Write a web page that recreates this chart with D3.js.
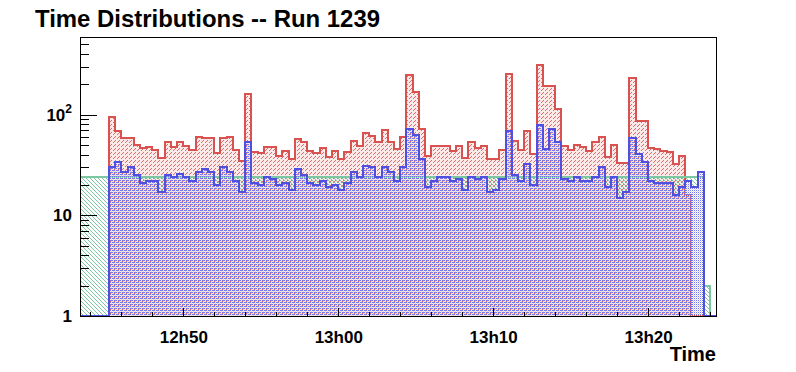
<!DOCTYPE html>
<html>
<head>
<meta charset="utf-8">
<script src="https://cdn.jsdelivr.net/npm/d3@7"></script>
<style>
  body { margin: 0; background: #fff; }
  text { font-family: "Liberation Sans", Arial, Helvetica, sans-serif; font-weight: bold; fill: #000; }
</style>
</head>
<body>
<script>
// Histogram data, 24 s bins starting at 12:45:12
const binSeconds = 24;
const firstBin = new Date(2000, 0, 1, 12, 45, 12);

const redCounts = [
  95, 69, 58, 59, 50, 47, 48, 45, 37, 54,
  48, 53, 49, 45, 60, 58, 58, 42, 58, 60,
  45, 35, 161, 43, 42, 48, 48, 39, 44, 36,
  57, 54, 44, 42, 47, 38, 44, 36, 43, 55,
  49, 66, 61, 53, 70, 53, 46, 60, 247, 166,
  72, 39, 49, 49, 49, 44, 49, 37, 53, 47,
  49, 36, 36, 45, 251, 55, 45, 68, 41, 311,
  194, 194, 114, 49, 45, 50, 48, 44, 53, 60,
  38, 50, 33, 33, 231, 87, 87, 47, 46, 44,
  43, 32, 39, 16
];

const blueCounts = [
  30, 34, 27, 30, 25, 21, 22, 22, 17, 25,
  24, 26, 24, 22, 27, 29, 27, 20, 30, 27,
  22, 17, 53, 21, 20, 24, 23, 20, 21, 18,
  29, 25, 21, 20, 22, 19, 20, 18, 21, 27,
  24, 31, 30, 24, 30, 27, 22, 30, 72, 63,
  36, 19, 22, 24, 24, 22, 23, 18, 24, 23,
  24, 17, 18, 23, 68, 25, 22, 32, 20, 79,
  46, 72, 53, 23, 22, 24, 22, 22, 24, 30,
  19, 24, 15, 17, 59, 41, 34, 22, 21, 21,
  21, 16, 19, 22, 19, 27
];

// green has a flat level over the whole run, then one low bin
const greenEdges = [
  new Date(2000, 0, 1, 12, 43, 12),
  new Date(2000, 0, 1, 13, 23, 36),
  new Date(2000, 0, 1, 13, 24, 0)
];
const greenCounts = [24, 2];

const timeRange = [new Date(2000, 0, 1, 12, 43, 20), new Date(2000, 0, 1, 13, 24, 23)];
const majorTicks = [
  new Date(2000, 0, 1, 12, 50), new Date(2000, 0, 1, 13, 0),
  new Date(2000, 0, 1, 13, 10), new Date(2000, 0, 1, 13, 20)
];
const yMajor = [1, 10, 100];
const yMinor = [2, 3, 4, 5, 6, 7, 8, 9, 20, 30, 40, 50, 60, 70, 80, 90, 200, 300, 400, 500];
const yMax = 590;

const title = "Time Distributions -- Run 1239";
const xTitle = "Time";

const width = 796, height = 372;
const frame = { left: 80, right: 716, top: 37, bottom: 316 };

const colors = { red: "#d9524f", blue: "#5050e0", green: "#7cc6a2" };

const x = d3.scaleTime().domain(timeRange).range([frame.left, frame.right]);
const y = d3.scaleLog().domain([1, yMax]).range([frame.bottom, frame.top]);

const svg = d3.select("body").append("svg")
    .attr("width", width)
    .attr("height", height);

const defs = svg.append("defs");
defs.append("clipPath").attr("id", "frame")
  .append("rect")
    .attr("x", frame.left).attr("y", frame.top)
    .attr("width", frame.right - frame.left).attr("height", frame.bottom - frame.top);

// pixel patterns, like ROOT fill styles
function pixelPattern(id, size, pixels, color, background) {
  const p = defs.append("pattern").attr("id", id)
      .attr("patternUnits", "userSpaceOnUse")
      .attr("width", size).attr("height", size);
  if (background) {
    p.append("rect").attr("width", size).attr("height", size).attr("fill", background);
  }
  pixels.forEach(([px, py, c]) => {
    p.append("rect").attr("x", px).attr("y", py)
        .attr("width", 1).attr("height", 1)
        .attr("fill", c || color).attr("shape-rendering", "crispEdges");
  });
}
pixelPattern("hatchRed", 4, [[3, 0], [2, 1], [1, 2]], "#e26a68", "#fbeaea");
pixelPattern("hatchGreen", 4, [[0, 0], [1, 1], [2, 2], [3, 3]], colors.green);
pixelPattern("dotsBlue", 2, [[0, 0], [1, 1, "#d6d6f6"]], "#7474e6");

function binEdges(start, n) {
  return d3.range(n + 1).map(i => new Date(start.getTime() + i * binSeconds * 1000));
}

// step outline; empty bins sit on the bottom of the frame
function stepPoints(edges, counts) {
  const base = y(1);
  const pts = [[x(timeRange[0]), base], [x(edges[0]), base]];
  counts.forEach((c, i) => {
    const yy = c >= 1 ? y(c) : base;
    pts.push([x(edges[i]), yy], [x(edges[i + 1]), yy]);
  });
  pts.push([x(edges[counts.length]), base], [x(timeRange[1]), base]);
  return pts;
}

const series = [
  { name: "red", edges: binEdges(firstBin, redCounts.length), counts: redCounts, fill: "url(#hatchRed)" },
  { name: "green", edges: greenEdges, counts: greenCounts, fill: "url(#hatchGreen)" },
  { name: "blue", edges: binEdges(firstBin, blueCounts.length), counts: blueCounts, fill: "url(#dotsBlue)" }
];

const plot = svg.append("g").attr("clip-path", "url(#frame)");

series.forEach(s => {
  const pts = stepPoints(s.edges, s.counts).map(([a, b]) => [Math.round(a), Math.round(b)]);
  plot.append("path")
      .attr("d", d3.line()(pts) + "Z")
      .attr("fill", s.fill)
      .attr("stroke", "none")
      .attr("shape-rendering", "crispEdges");
  plot.append("path")
      .attr("d", d3.line()(pts))
      .attr("fill", "none")
      .attr("stroke", colors[s.name])
      .attr("stroke-width", 2)
      .attr("shape-rendering", "crispEdges");
});

// frame
svg.append("rect")
    .attr("x", frame.left + 0.5).attr("y", frame.top + 0.5)
    .attr("width", frame.right - frame.left).attr("height", frame.bottom - frame.top)
    .attr("fill", "none").attr("stroke", "#000").attr("stroke-width", 1)
    .attr("shape-rendering", "crispEdges");

// x axis: major + minor ticks pointing up into the frame
const xAxis = svg.append("g").attr("transform", `translate(0,${frame.bottom})`)
    .call(d3.axisBottom(x).tickValues(majorTicks).tickSize(-8).tickPadding(15)
      .tickFormat(d3.timeFormat("%Hh%M")));
svg.append("g").attr("transform", `translate(0,${frame.bottom})`)
    .call(d3.axisBottom(x).ticks(d3.timeMinute.every(2)).tickSize(-4).tickFormat(""))
    .select(".domain").remove();
xAxis.select(".domain").remove();
xAxis.selectAll("text")
    .attr("font-size", 17)
    .attr("font-family", "Liberation Sans, Arial, sans-serif")
    .attr("font-weight", "bold")
    .attr("fill", "#000");

// y axis, log
const yAxis = svg.append("g").attr("transform", `translate(${frame.left},0)`)
    .call(d3.axisLeft(y).tickValues(yMajor).tickSize(-17).tickFormat(""));
svg.append("g").attr("transform", `translate(${frame.left},0)`)
    .call(d3.axisLeft(y).tickValues(yMinor).tickSize(-9).tickFormat(""))
    .select(".domain").remove();
yAxis.select(".domain").remove();
svg.selectAll(".tick line").attr("stroke", "#000").attr("shape-rendering", "crispEdges");

yMajor.forEach(v => {
  const t = svg.append("text")
      .attr("x", frame.left - 8)
      .attr("y", y(v) + 6)
      .attr("text-anchor", "end")
      .attr("font-size", 17);
  if (v >= 100) {
    t.append("tspan").text("10");
    t.append("tspan").text(String(Math.round(Math.log10(v))))
        .attr("font-size", 12).attr("dy", -8);
  } else {
    t.text(v);
  }
});

svg.append("text")
    .attr("x", 35).attr("y", 27)
    .attr("font-size", 23)
    .attr("textLength", 345)
    .attr("lengthAdjust", "spacingAndGlyphs")
    .text(title);

svg.append("text")
    .attr("x", frame.right).attr("y", 361)
    .attr("text-anchor", "end")
    .attr("font-size", 20)
    .text(xTitle);
</script>
</body>
</html>
